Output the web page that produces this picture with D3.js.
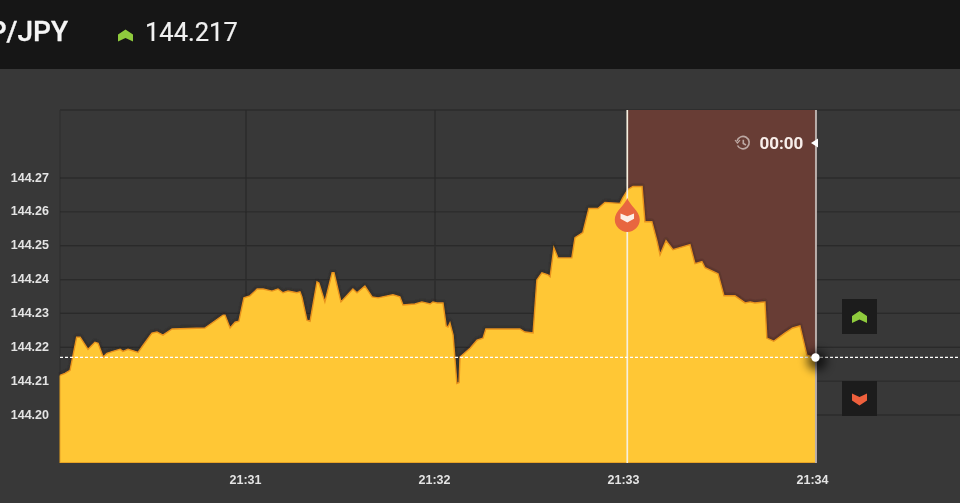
<!DOCTYPE html>
<html><head><meta charset="utf-8">
<script src="https://cdnjs.cloudflare.com/ajax/libs/d3/7.8.5/d3.min.js"></script>
<style>
html,body{margin:0;padding:0;background:#363636;overflow:hidden}
svg{display:block}
</style></head><body>
<svg id="c" width="960" height="503"></svg>
<script>
const symbol = "GBP/JPY";
const currentPrice = 144.217;
const countdown = "00:00";
const priceTicks = [144.20,144.21,144.22,144.23,144.24,144.25,144.26,144.27];
const timeTicks = [60,120,180,240];
const timeLabels = ["21:31","21:32","21:33","21:34"];
const seconds = [1.1,2.7,4.3,6.4,7.5,10,12.2,13.2,14.8,16,17.9,20.2,21.1,22.7,25.9,27.5,30.3,31.9,33.8,36.7,47.1,52.9,53.5,55.1,56.7,57.9,59.5,61.4,63.7,65.6,68.4,70.3,71.9,73.5,76.3,77.3,77.9,79.5,80.5,82.7,83.3,85.2,87.5,88.1,90.3,94.1,95.4,97.9,100.2,102.1,106.8,109,110,113.8,116,118.6,119.5,120.8,122.7,123.7,124.3,124.9,125.9,127.1,127.8,128.1,131.3,133.5,135.4,136.3,144,147.1,148.7,151.3,152.5,154.1,156,156.7,157.9,159.2,163.6,164.6,167.1,169,171.9,174.1,178.9,179.8,181.4,183,185.9,186.8,189,190.6,191.6,193.5,195.7,201.1,202.7,204.9,205.9,210,211.9,215.4,218.6,220.2,221.7,224.9,225.5,227.7,231.2,233.7,236,238.2,241.1];
const prices = [144.2117,144.2123,144.2132,144.2230,144.2230,144.2194,144.2215,144.2212,144.2171,144.2182,144.2188,144.2194,144.2188,144.2194,144.2185,144.2206,144.2242,144.2245,144.2236,144.2254,144.2257,144.2295,144.2295,144.2257,144.2274,144.2277,144.2346,144.2352,144.2372,144.2372,144.2366,144.2372,144.2361,144.2366,144.2361,144.2364,144.2349,144.2280,144.2277,144.2393,144.2390,144.2334,144.2420,144.2420,144.2334,144.2372,144.2361,144.2381,144.2349,144.2346,144.2355,144.2349,144.2325,144.2328,144.2334,144.2328,144.2334,144.2331,144.2331,144.2263,144.2260,144.2272,144.2236,144.2093,144.2096,144.2171,144.2197,144.2221,144.2227,144.2254,144.2254,144.2254,144.2245,144.2242,144.2399,144.2420,144.2414,144.2408,144.2494,144.2464,144.2464,144.2524,144.2539,144.2610,144.2610,144.2628,144.2625,144.2642,144.2666,144.2675,144.2675,144.2571,144.2571,144.2515,144.2473,144.2515,144.2488,144.2503,144.2447,144.2453,144.2435,144.2417,144.2352,144.2352,144.2331,144.2334,144.2331,144.2334,144.2227,144.2218,144.2242,144.2257,144.2263,144.2177,144.2168];
const entrySecond = 181.2, expirySecond = 241.1;

const svg = d3.select("#c");
const W = 960, H = 503, plotLeft = 60, plotTop = 110, plotBottom = 463;
const x = d3.scaleLinear().domain([0,240]).range([56.5,812.5]);
const y = d3.scaleLinear().domain([144.20,144.27]).range([415,178]);
const n = Math.min(seconds.length, prices.length);
const data = seconds.slice(0,n).map((s,i)=>({s,p:prices[i]}));
const defs = svg.append("defs");
const soft = (id,s)=>defs.append("filter").attr("id",id).attr("filterUnits","userSpaceOnUse").attr("x",0).attr("y",0).attr("width",W).attr("height",H)
  .append("feGaussianBlur").attr("stdDeviation",s);
soft("soft",0.7); soft("edge",1.0); soft("shadow",5);
const g = svg.append("g").attr("filter","url(#soft)");
g.append("rect").attr("width",W).attr("height",H).attr("fill","#373737");
g.append("rect").attr("width",W).attr("height",69).attr("fill","#141414");

// grid
const grid = g.append("g").attr("stroke","#2b2b2b").attr("stroke-width",1.3).attr("fill","none");
priceTicks.forEach(t=>{ grid.append("line").attr("x1",plotLeft).attr("x2",W).attr("y1",y(t)).attr("y2",y(t)); });
grid.append("line").attr("x1",plotLeft).attr("x2",W).attr("y1",plotTop).attr("y2",plotTop).attr("stroke","#2e2e2e");
grid.append("line").attr("x1",plotLeft).attr("x2",plotLeft).attr("y1",plotTop).attr("y2",plotBottom).attr("stroke","#2e2e2e");
timeTicks.slice(0,2).forEach(t=>grid.append("line").attr("x1",x(t)+0.5).attr("x2",x(t)+0.5).attr("y1",plotTop).attr("y2",plotBottom));

// expiry zone (over the grid, which shows through faintly)
g.append("rect").attr("x",x(entrySecond)).attr("y",plotTop)
 .attr("width",x(expirySecond)-x(entrySecond)).attr("height",plotBottom-plotTop).attr("fill","#703f36").attr("fill-opacity",0.88);

// area
const area = d3.area().x(d=>x(d.s)).y0(plotBottom).y1(d=>y(d.p)).curve(d3.curveLinear);
const line = d3.line().x(d=>x(d.s)).y(d=>y(d.p)).curve(d3.curveLinear);
g.append("path").datum(data).attr("d",line).attr("fill","none").attr("stroke","#2a2014").attr("stroke-opacity",0.45).attr("stroke-width",2.4).attr("filter","url(#edge)").attr("transform","translate(0,-0.8)");
g.append("path").datum(data).attr("d",area).attr("fill","#ffc735");
g.append("path").datum(data).attr("d",line).attr("fill","none").attr("stroke","#e8921e").attr("stroke-width",1.4);
g.append("line").attr("x1",plotLeft).attr("x2",x(expirySecond)).attr("y1",plotBottom-0.5).attr("y2",plotBottom-0.5).attr("stroke","#e8a426").attr("stroke-width",1.2);
g.append("line").attr("x1",plotLeft).attr("x2",plotLeft).attr("y1",y(prices[0])).attr("y2",plotBottom).attr("stroke","#e8a426").attr("stroke-width",1);

// vertical markers
g.append("line").attr("x1",x(entrySecond)).attr("x2",x(entrySecond)).attr("y1",plotTop).attr("y2",plotBottom).attr("stroke","#f6efe0").attr("stroke-width",1.7);
g.append("line").attr("x1",x(expirySecond)).attr("x2",x(expirySecond)).attr("y1",plotTop).attr("y2",plotBottom).attr("stroke","#b9aeaa").attr("stroke-width",2);

// current price line
g.append("line").attr("x1",plotLeft).attr("x2",W).attr("y1",y(currentPrice)).attr("y2",y(currentPrice))
 .attr("stroke","#ffffff").attr("stroke-width",1.2).attr("stroke-dasharray","3,2");

// axes
const axisStyle = sel=>{
  sel.select(".domain").remove();
  sel.selectAll(".tick line").remove();
  sel.selectAll("text").attr("fill","#e4e4e4").attr("font-family","'Liberation Sans',Arial,sans-serif").attr("font-weight","700").attr("font-size","12.5px");
};
g.append("g").attr("transform","translate(49,-1)")
 .call(d3.axisLeft(y).tickValues(priceTicks).tickFormat(d3.format(".2f")).tickSize(0).tickPadding(0))
 .call(axisStyle);
g.append("g").attr("transform",`translate(-0.5,${plotBottom+6.5})`)
 .call(d3.axisBottom(x).tickValues(timeTicks).tickFormat((d,i)=>timeLabels[i]).tickSize(0).tickPadding(6))
 .call(axisStyle);

// header
g.append("text").attr("x",68).attr("y",41).attr("text-anchor","end").attr("fill","#f6f6f6")
 .attr("font-family","Roboto,sans-serif").attr("font-weight","500").attr("font-size","28px").attr("stroke","#f6f6f6").attr("stroke-width",0.3).text(symbol);
const chevUp = "M-7.5,6 L-7.5,-1 L0,-6 L7.5,-1 L7.5,6 L0,2.5 Z";
const chevDown = "M-7.5,-6 L0,-2.5 L7.5,-6 L7.5,1 L0,6 L-7.5,1 Z";
g.append("path").attr("d",chevUp).attr("transform","translate(125.5,35.5)").attr("fill","#8fcb3c");
g.append("text").attr("x",145).attr("y",41).attr("fill","#f0f0f0").attr("font-family","Roboto,sans-serif").attr("font-size","25.5px").attr("stroke","#f0f0f0").attr("stroke-width",0.2).text(currentPrice.toFixed(3));

// buy / sell buttons
g.append("rect").attr("x",842).attr("y",299).attr("width",35).attr("height",35).attr("fill","#1b1b1b");
g.append("path").attr("d",chevUp).attr("transform","translate(859.5,317)").attr("fill","#8fcb3c");
g.append("rect").attr("x",842).attr("y",381).attr("width",35).attr("height",35).attr("fill","#1b1b1b");
g.append("path").attr("d",chevDown).attr("transform","translate(859.5,399.5)").attr("fill","#ee603c");

// countdown
const cg = g.append("g").attr("transform","translate(743,143)").attr("fill","none").attr("stroke","#bda9a4").attr("stroke-width",1.6);
cg.append("path").attr("d","M-5.5,2.5 A6.2,6.2 0 1 0 -6,-2");
cg.append("path").attr("d","M-8,-3 L-5.6,0 L-3,-2.8").attr("stroke-width",1.2);
cg.append("path").attr("d","M0.3,-3.2 L0.3,0.5 L3,2");
g.append("text").attr("x",759.5).attr("y",149).attr("fill","#f8eeea").attr("font-family","Roboto,sans-serif").attr("font-weight","700").attr("font-size","17px").text(countdown);
g.append("path").attr("d","M811,143 L818,138.5 L818,147.5 Z").attr("fill","#ffffff");

// entry marker
const mx = x(entrySecond), my = 218;
g.append("path").attr("d","M0,-20 C2,-13 12.5,-7 12.5,1.5 A12.5,12.5 0 1 1 -12.5,1.5 C-12.5,-7 -2,-13 0,-20 Z")
 .attr("transform",`translate(${mx},${my})`).attr("fill","#e8663f");
g.append("path").attr("d",chevDown).attr("transform",`translate(${mx},${my}) scale(0.9,0.75)`).attr("fill","#fdeee6");

// price dot with its shadow on top of everything
svg.append("circle").attr("cx",x(expirySecond)+1).attr("cy",y(currentPrice)+3).attr("r",10).attr("fill","#000").attr("opacity",0.65).attr("filter","url(#shadow)");
svg.append("circle").attr("cx",x(expirySecond)-0.5).attr("cy",y(currentPrice)).attr("r",4.2).attr("fill","#fff").attr("filter","url(#soft)");
</script>
</body></html>
